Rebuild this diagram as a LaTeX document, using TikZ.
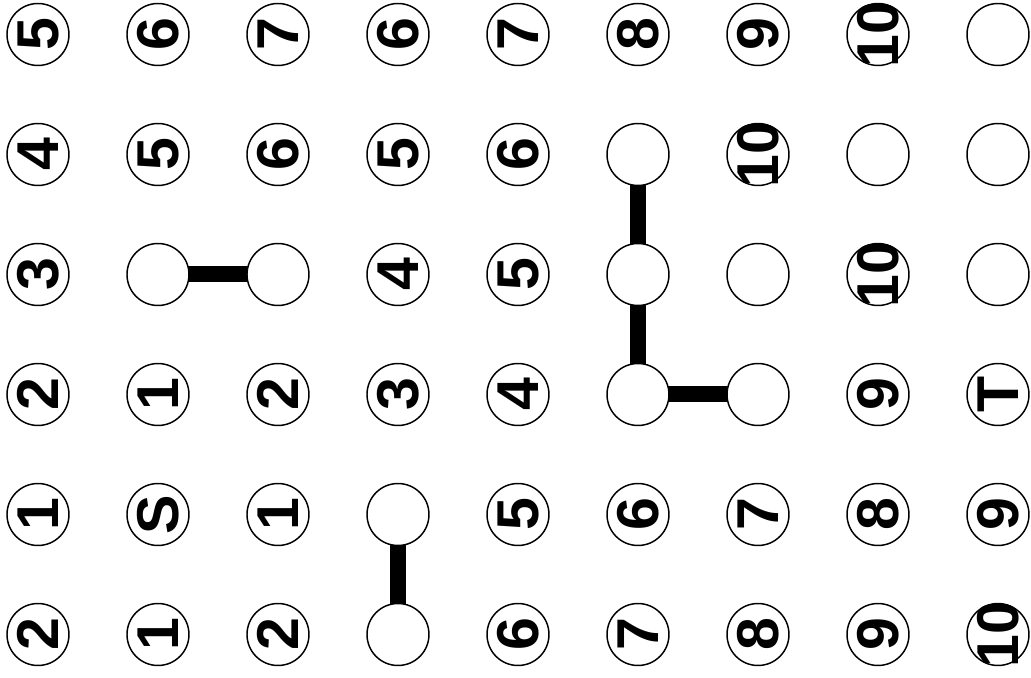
\documentclass[tikz,border=0pt]{standalone}
\usepackage{fontspec}
\setmainfont{Liberation Sans}
\usepackage{tikz}
\usetikzlibrary{backgrounds}
\tikzset{
    cell/.style={circle, draw, fill=white, line width=0.7pt, inner sep=0pt, minimum size=1.033cm},
    number/.style={font=\bfseries\fontsize{28}{28}\selectfont, rotate=90, inner sep=0pt},
    link/.style={line width=0.2667cm, line cap=butt}
}

\begin{document}
\begin{tikzpicture}

    \useasboundingbox (-0.633,0.575) rectangle (16.55,-10.725);

    % --- Grid of cells ---
    \foreach \i in {0,...,8}
        \foreach \j in {0,...,5}
            \node[cell] (c\i-\j) at (2*\i, -2*\j) {};

    % --- Labels, row by row from the top ---
    \foreach \t [count=\i from 0] in {5,6,7,6,7,8,9,10,{}}
        \node[number] (t\i-0) at (c\i-0) {\t};
    \foreach \t [count=\i from 0] in {4,5,6,5,6,{},10,{},{}}
        \node[number] (t\i-1) at (c\i-1) {\t};
    \foreach \t [count=\i from 0] in {3,{},{},4,5,{},{},10,{}}
        \node[number] (t\i-2) at (c\i-2) {\t};
    \foreach \t [count=\i from 0] in {2,1,2,3,4,{},{},9,T}
        \node[number] (t\i-3) at (c\i-3) {\t};
    \foreach \t [count=\i from 0] in {1,S,1,{},5,6,7,8,9}
        \node[number] (t\i-4) at (c\i-4) {\t};
    \foreach \t [count=\i from 0] in {2,1,2,{},6,7,8,9,10}
        \node[number] (t\i-5) at (c\i-5) {\t};

    % --- Links between cells ---
    \begin{pgfonlayer}{background}
        \draw[link] (c1-2.center) -- (c2-2.center);
        \draw[link] (c5-1.center) -- (c5-2.center);
        \draw[link] (c5-2.center) -- (c5-3.center);
        \draw[link] (c5-3.center) -- (c6-3.center);
        \draw[link] (c3-4.center) -- (c3-5.center);
    \end{pgfonlayer}

\end{tikzpicture}
\end{document}
